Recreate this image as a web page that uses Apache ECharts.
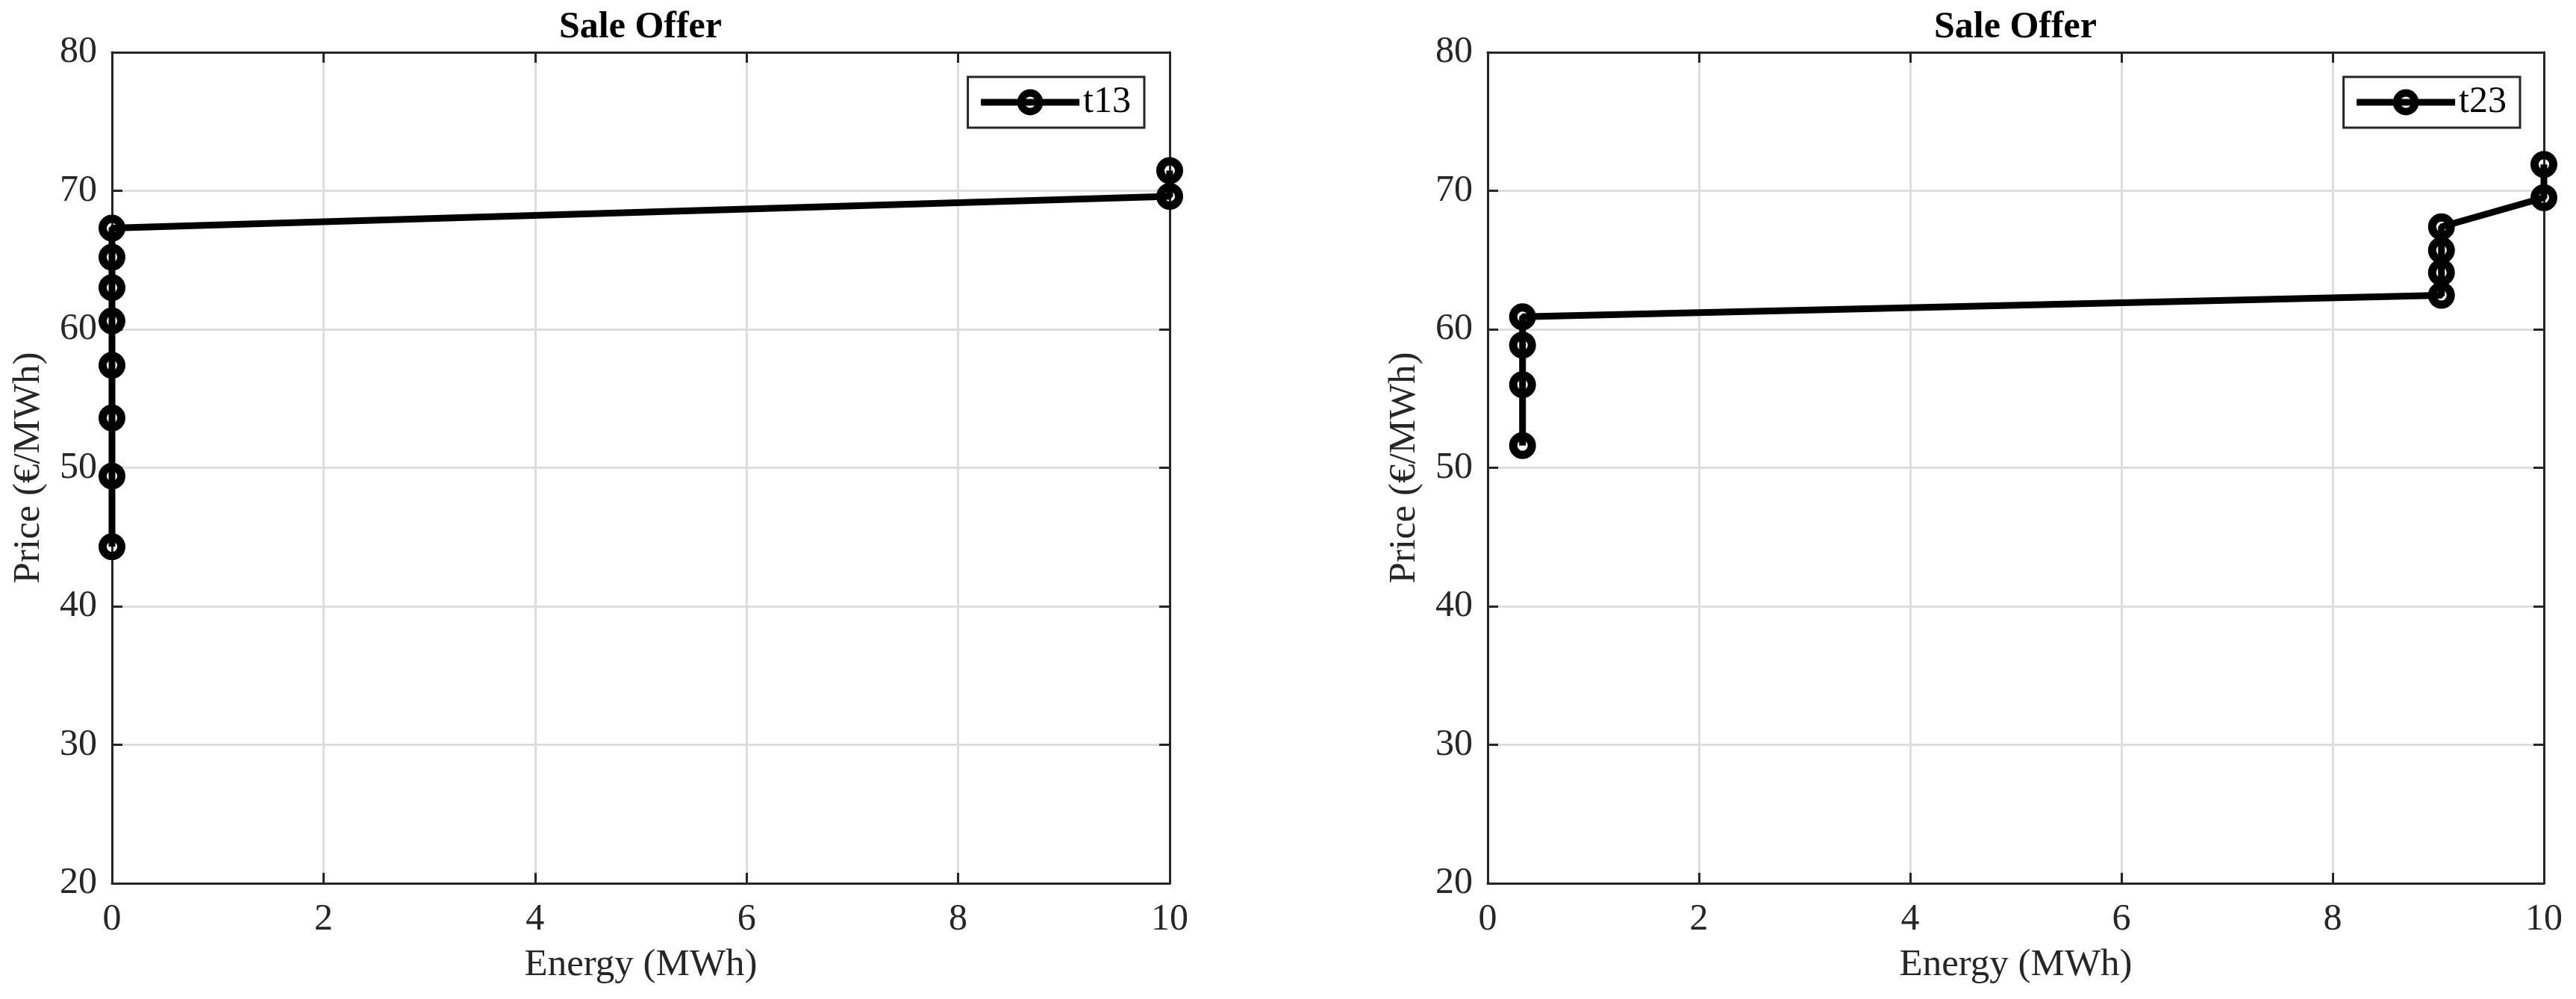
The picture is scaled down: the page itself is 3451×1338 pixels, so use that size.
<!DOCTYPE html>
<html>
<head>
<meta charset="utf-8">
<title>Sale Offer</title>
<script src="https://cdn.jsdelivr.net/npm/echarts@6/dist/echarts.min.js"></script>
<style>
  html, body { margin: 0; padding: 0; background: #fff; }
  #main { width: 3451px; height: 1338px; }
</style>
</head>
<body>
<div id="main"></div>
<script>
var dom = document.getElementById('main');
var myChart = echarts.init(dom);

// t13 offer steps
var energy13 = [0, 0, 0, 0, 0, 0, 0, 0, 10, 10];
var price13 = [44.3, 49.4, 53.6, 57.4, 60.6, 63.0, 65.2, 67.3, 69.6, 71.45];

// t23 offer steps
var energy23 = [0.33, 0.33, 0.33, 0.33, 9.03, 9.03, 9.03, 9.03, 10, 10];
var price23 = [51.6, 56.0, 58.85, 60.9, 62.45, 64.1, 65.7, 67.4, 69.5, 71.9];

var energyTicks = [0, 2, 4, 6, 8, 10];
var priceTicks = [20, 30, 40, 50, 60, 70, 80];

function pairs(xs, ys) {
    return xs.map(function (x, i) { return [x, ys[i]]; });
}

var font = 'Liberation Serif';
var axisColor = '#262626';

function bottomAxis(gi) {
    return {
        type: 'value', gridIndex: gi, position: 'bottom',
        min: energyTicks[0], max: energyTicks[energyTicks.length - 1], interval: 2,
        name: 'Energy (MWh)', nameLocation: 'middle', nameGap: 84,
        nameTextStyle: { fontFamily: font, fontSize: 51, color: axisColor },
        axisLine: { onZero: false, lineStyle: { color: axisColor, width: 3 } },
        axisTick: { inside: true, length: 14, lineStyle: { color: axisColor, width: 3 } },
        axisLabel: { margin: 24, fontFamily: font, fontSize: 50, color: axisColor },
        splitLine: { show: true, lineStyle: { color: '#dedede', width: 3 } }
    };
}
function topAxis(gi) {
    return {
        type: 'value', gridIndex: gi, position: 'top',
        min: 0, max: 10, interval: 2,
        axisLine: { onZero: false, lineStyle: { color: axisColor, width: 3 } },
        axisTick: { inside: true, length: 14, lineStyle: { color: axisColor, width: 3 } },
        axisLabel: { show: false },
        splitLine: { show: false }
    };
}
function leftAxis(gi) {
    return {
        type: 'value', gridIndex: gi, position: 'left',
        min: priceTicks[0], max: priceTicks[priceTicks.length - 1], interval: 10,
        name: 'Price (€/MWh)', nameLocation: 'middle', nameGap: 86,
        nameTextStyle: { fontFamily: font, fontSize: 51, color: axisColor },
        axisLine: { onZero: false, lineStyle: { color: axisColor, width: 3 } },
        axisTick: { inside: true, length: 14, lineStyle: { color: axisColor, width: 3 } },
        axisLabel: { margin: 20, fontFamily: font, fontSize: 50, color: axisColor },
        splitLine: { show: true, lineStyle: { color: '#dedede', width: 3 } }
    };
}
function rightAxis(gi) {
    return {
        type: 'value', gridIndex: gi, position: 'right',
        min: 20, max: 80, interval: 10,
        axisLine: { onZero: false, lineStyle: { color: axisColor, width: 3 } },
        axisTick: { inside: true, length: 14, lineStyle: { color: axisColor, width: 3 } },
        axisLabel: { show: false },
        splitLine: { show: false }
    };
}

function offerSeries(name, gi, data) {
    return {
        name: name, type: 'line', xAxisIndex: gi * 2, yAxisIndex: gi * 2,
        data: data, clip: false,
        symbol: 'circle', symbolSize: 25,
        lineStyle: { color: '#000', width: 9 },
        itemStyle: { color: 'rgba(0,0,0,0)', borderColor: '#000', borderWidth: 11 },
        emphasis: { disabled: true },
        animation: false
    };
}

function legendFor(name, right) {
    return {
        data: [name], right: right, top: 103,
        orient: 'vertical',
        padding: [9, 18, 9, 13],
        itemWidth: 132, itemHeight: 31, itemGap: 10,
        backgroundColor: '#fff',
        borderColor: axisColor, borderWidth: 3,
        lineStyle: { width: 9, color: '#000' },
        itemStyle: { borderWidth: 10, borderColor: '#000', color: 'rgba(0,0,0,0)' },
        textStyle: { fontFamily: font, fontSize: 50, color: '#000', padding: [0, 0, 0, 0] },
        selectedMode: false
    };
}

option = {
    backgroundColor: '#fff',
    animation: false,
    title: [
        { text: 'Sale Offer', left: 858, top: 12, textAlign: 'center', padding: 0,
          textStyle: { fontFamily: font, fontSize: 50, fontWeight: 'bold', color: '#000' } },
        { text: 'Sale Offer', left: 2700, top: 12, textAlign: 'center', padding: 0,
          textStyle: { fontFamily: font, fontSize: 50, fontWeight: 'bold', color: '#000' } }
    ],
    legend: [legendFor('t13', 1918), legendFor('t23', 75)],
    grid: [
        { left: 150, top: 70, width: 1417, height: 1113 },
        { left: 1993, top: 70, width: 1415, height: 1113 }
    ],
    xAxis: [bottomAxis(0), topAxis(0), bottomAxis(1), topAxis(1)],
    yAxis: [leftAxis(0), rightAxis(0), leftAxis(1), rightAxis(1)],
    series: [
        offerSeries('t13', 0, pairs(energy13, price13)),
        offerSeries('t23', 1, pairs(energy23, price23))
    ]
};
myChart.setOption(option);
</script>
</body>
</html>
